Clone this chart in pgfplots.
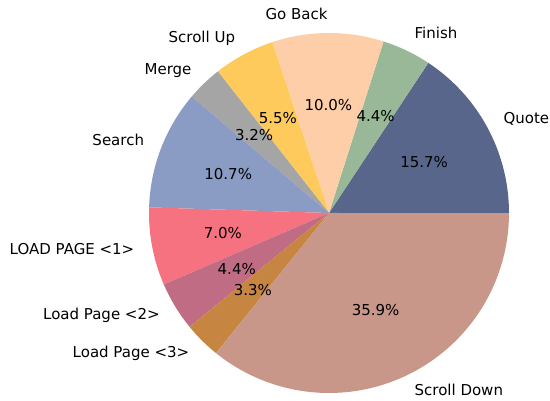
\documentclass[border=0pt]{standalone}
\usepackage{pgfplots}
\pgfplotsset{compat=1.18}
\usepackage{fontspec}
\setmainfont{DejaVu Sans}
\definecolor{cQuote}{HTML}{58668B}
\definecolor{cFinish}{HTML}{99B898}
\definecolor{cGoBack}{HTML}{FECEA8}
\definecolor{cScrollUp}{HTML}{FFCA5C}
\definecolor{cMerge}{HTML}{A5A5A5}
\definecolor{cSearch}{HTML}{8A9CC4}
\definecolor{cLPa}{HTML}{F67280}
\definecolor{cLPb}{HTML}{C06C84}
\definecolor{cLPc}{HTML}{C68642}
\definecolor{cScrollDown}{HTML}{C99789}
% #1 start angle, #2 end angle, #3 colour
\newcommand{\slice}[3]{%
  \addplot[fill=#3, draw=none, domain=#1:#2, samples=80] ({cos(x)},{sin(x)}) -- (axis cs:0,0) -- cycle;
}
% #1 mid angle, #2 label, #3 anchor, #4 percent text
\newcommand{\slicelabel}[4]{%
  \node[anchor=#3, text height=0.73em, text depth=0.2em, inner sep=0pt] at (axis cs:{1.1*cos(#1)},{1.1*sin(#1)-0.008}) {#2};
  \node[anchor=center, inner sep=0pt] at (axis cs:{0.6*cos(#1)},{0.6*sin(#1)}) {#4};
}
\begin{document}
\begin{tikzpicture}[font=\fontsize{15bp}{17bp}\selectfont]
\begin{axis}[
  x=180bp, y=180bp,
  xmin=-1.82778, xmax=1.22778,
  ymin=-1.04444, ymax=1.18333,
  hide axis, clip=false,
]
% percentages: Quote 15.7, Finish 4.4, Go Back 10.0, Scroll Up 5.5, Merge 3.2,
% Search 10.7, LOAD PAGE <1> 7.0, Load Page <2> 4.4, Load Page <3> 3.3, Scroll Down 35.9
\slice{0}{56.52}{cQuote}
\slice{56.52}{72.36}{cFinish}
\slice{72.36}{108.36}{cGoBack}
\slice{108.36}{128.16}{cScrollUp}
\slice{128.16}{139.68}{cMerge}
\slice{139.68}{178.2}{cSearch}
\slice{178.2}{203.4}{cLPa}
\slice{203.4}{219.24}{cLPb}
\slice{219.24}{231.12}{cLPc}
\slice{231.12}{360}{cScrollDown}
\slicelabel{28.26}{Quote}{west}{15.7\%}
\slicelabel{64.44}{Finish}{west}{4.4\%}
\slicelabel{90.36}{Go Back}{east}{10.0\%}
\slicelabel{118.26}{Scroll Up}{east}{5.5\%}
\slicelabel{133.92}{Merge}{east}{3.2\%}
\slicelabel{158.94}{Search}{east}{10.7\%}
\slicelabel{190.8}{LOAD PAGE <1>}{east}{7.0\%}
\slicelabel{211.32}{Load Page <2>}{east}{4.4\%}
\slicelabel{225.18}{Load Page <3>}{east}{3.3\%}
\slicelabel{295.56}{Scroll Down}{west}{35.9\%}
\path (axis cs:-1.82778,-1.04444) rectangle (axis cs:1.22778,1.18333);
\end{axis}
\end{tikzpicture}
\end{document}
